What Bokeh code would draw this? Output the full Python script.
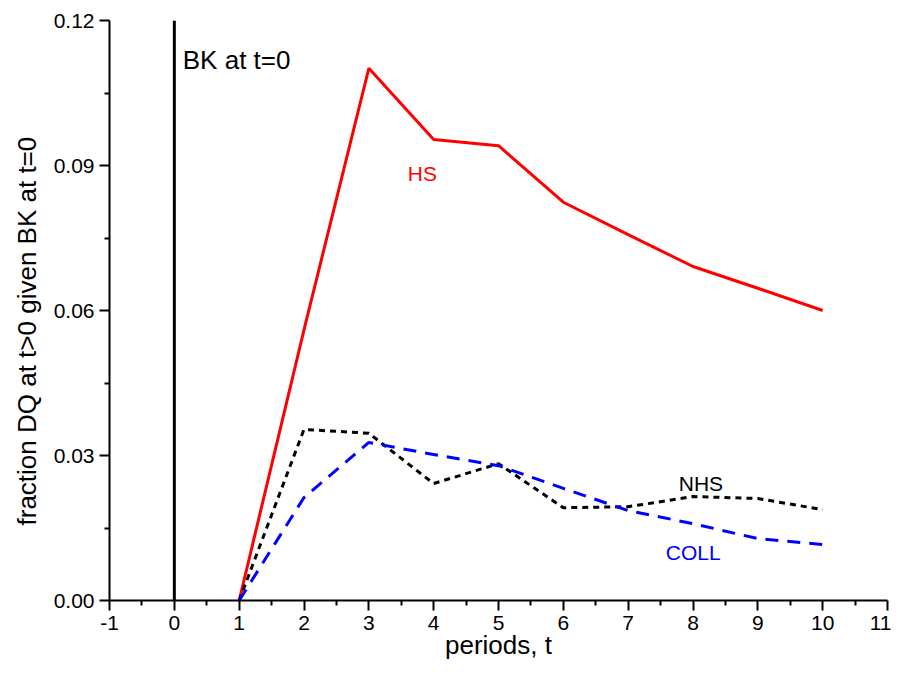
from bokeh.plotting import figure
from bokeh.embed import file_html
from bokeh.resources import INLINE
from bokeh.models import Range1d, Span, Label, Title, FixedTicker, NumeralTickFormatter

FONT = "Liberation Sans"

periods = [1, 2, 3, 4, 5, 6, 7, 8, 9, 10]
hs = [0.0, 0.056, 0.1101, 0.0954, 0.0941, 0.0824, 0.0757, 0.0691, 0.0646, 0.0600]
nhs = [0.0, 0.0354, 0.0346, 0.0242, 0.0283, 0.0192, 0.0194, 0.0215, 0.0211, 0.0188]
coll = [0.0, 0.0213, 0.0327, 0.0302, 0.0279, 0.0232, 0.0186, 0.0159, 0.0128, 0.0116]

x_ticks = list(range(-1, 12))
y_ticks = [0.0, 0.03, 0.06, 0.09, 0.12]

# text notes: (text, x, y, colour, size)
notes = [
    ("BK at t=0", 0.13, 0.1118, "black", "26px"),
    ("HS", 3.6, 0.0884, "red", "21px"),
    ("NHS", 7.78, 0.0242, "black", "21px"),
    ("COLL", 7.58, 0.0099, "blue", "21px"),
]
y_title = "fraction DQ at t>0 given BK at  t=0"
x_title = "periods, t"

p = figure(
    frame_width=778,
    frame_height=580,
    min_border_left=109,
    min_border_top=20,
    min_border_right=4,
    min_border_bottom=70,
    x_range=Range1d(-1, 11),
    y_range=Range1d(0, 0.12),
    output_backend="svg",
    toolbar_location=None,
    tools="",
)
p.outline_line_color = None
p.xgrid.visible = False
p.ygrid.visible = False

p.add_layout(Span(location=0, dimension="height", line_color="black", line_width=3))

p.line(periods, hs, line_color="red", line_width=3)
p.line(periods, nhs, line_color="black", line_width=3, line_dash="6 5")
p.line(periods, coll, line_color="blue", line_width=3, line_dash="13 9")

for txt, x, y, col, size in notes:
    p.add_layout(
        Label(
            x=x, y=y, text=txt, text_color=col, text_font=FONT,
            text_font_size=size, text_align="left", text_baseline="alphabetic",
        )
    )

# y title as a side title, starting a bit above the x axis like the original
p.add_layout(
    Title(
        text=y_title, align="left", offset=75, standoff=18,
        text_font=FONT, text_font_size="26px", text_font_style="normal",
        text_color="black",
    ),
    "left",
)

p.xaxis.ticker = FixedTicker(
    ticks=x_ticks, minor_ticks=[t + 0.5 for t in x_ticks[:-1]]
)
p.yaxis.ticker = FixedTicker(
    ticks=y_ticks, minor_ticks=[t + 0.015 for t in y_ticks[:-1]]
)
p.yaxis.formatter = NumeralTickFormatter(format="0.00")
p.xaxis.major_label_overrides = {t: str(t) for t in x_ticks}

for ax in (p.xaxis, p.yaxis):
    ax.axis_line_width = 2
    ax.axis_line_color = "black"
    ax.major_tick_line_width = 2
    ax.minor_tick_line_width = 2
    ax.major_tick_line_color = "black"
    ax.minor_tick_line_color = "black"
    ax.major_tick_in = 0
    ax.major_tick_out = 10
    ax.minor_tick_in = 0
    ax.minor_tick_out = 5
    ax.major_label_text_font = FONT
    ax.major_label_text_font_size = "21px"
    ax.major_label_text_color = "black"
    ax.major_label_standoff = 5
    ax.axis_label_text_font = FONT
    ax.axis_label_text_font_size = "26px"
    ax.axis_label_text_font_style = "normal"
    ax.axis_label_text_color = "black"

p.xaxis.axis_label = x_title
p.xaxis.axis_label_standoff = -3

open("out.html", "w").write(file_html(p, INLINE))
